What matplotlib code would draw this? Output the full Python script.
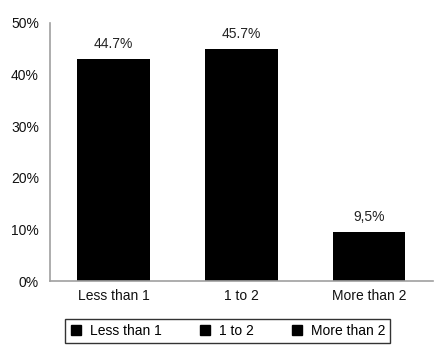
import matplotlib.pyplot as plt
from matplotlib.lines import Line2D

plt.rcParams['font.family'] = ['Liberation Sans', 'DejaVu Sans']

categories = ['Less than 1', '1 to 2', 'More than 2']
values = [43.0, 45.0, 9.5]
labels = ['44.7%', '45.7%', '9,5%']

fig = plt.figure(figsize=(4.44, 3.52), dpi=100)
ax = fig.add_axes([0.1126, 0.2017, 0.8624, 0.733])

x = range(len(categories))
bars = ax.bar(x, values, width=0.57, color='black')
for b, lab in zip(bars, labels):
    ax.text(b.get_x() + b.get_width() / 2, b.get_height() + 1.6, lab,
            ha='center', va='bottom', fontsize=10, color='#222222')

ax.set_xlim(-0.5, 2.5)
ax.set_ylim(0, 50)
ax.set_yticks(range(0, 51, 10))
ax.set_yticklabels([f'{v}%' for v in range(0, 51, 10)])
ax.set_xticks(list(x))
ax.set_xticklabels(categories)
ax.tick_params(length=0, labelsize=10, colors='#111111')
ax.tick_params(axis='y', pad=8)
ax.tick_params(axis='x', pad=6)
for s in ['top', 'right']:
    ax.spines[s].set_visible(False)
for s in ['left', 'bottom']:
    ax.spines[s].set_color('#a0a0a0')
    ax.spines[s].set_linewidth(1.2)

handles = [Line2D([], [], marker='s', color='black', linestyle='none', markersize=6.5)
           for _ in categories]
leg = fig.legend(handles, categories, loc='center', bbox_to_anchor=(0.512, 0.06),
                 ncol=3, fontsize=10, frameon=True, fancybox=False,
                 handletextpad=0.5, columnspacing=2.6, handlelength=1.0,
                 borderpad=0.35, borderaxespad=0)
leg.get_frame().set_edgecolor('black')
leg.get_frame().set_linewidth(1.0)

plt.savefig('out.png', dpi=100)
